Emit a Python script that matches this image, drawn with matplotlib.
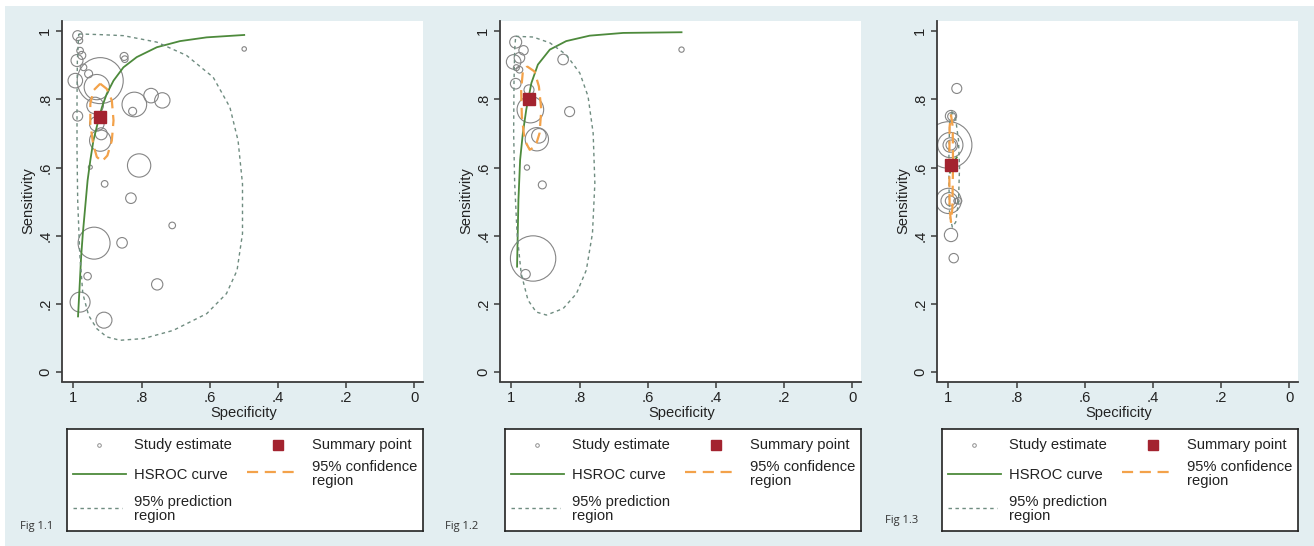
import matplotlib
matplotlib.use('Agg')
import matplotlib.pyplot as plt
from matplotlib.patches import Rectangle

plt.rcParams['font.family'] = ['Liberation Sans', 'DejaVu Sans']

W, H = 1314, 546

# ---------------- Fig 1.1 ----------------
spec1 = [0.987, 0.982, 0.980, 0.975, 0.989, 0.970, 0.955, 0.994, 0.921, 0.931,
         0.851, 0.849, 0.987, 0.936, 0.931, 0.918, 0.921, 0.950, 0.908, 0.821,
         0.826, 0.772, 0.739, 0.807, 0.831, 0.710, 0.939, 0.857, 0.958, 0.754,
         0.980, 0.910, 0.499]
sens1 = [0.987, 0.973, 0.943, 0.929, 0.914, 0.894, 0.875, 0.855, 0.855, 0.836,
         0.926, 0.918, 0.751, 0.782, 0.728, 0.699, 0.679, 0.601, 0.552, 0.785,
         0.765, 0.811, 0.797, 0.606, 0.510, 0.430, 0.378, 0.379, 0.281, 0.257,
         0.205, 0.152, 0.948]
wt1 = [25, 11, 11, 16, 36, 11, 16, 53, 530, 160,
       16, 11, 25, 69, 53, 36, 114, 4, 11, 152,
       16, 53, 59, 136, 28, 11, 256, 28, 14, 32,
       100, 64, 5]
summary1 = (0.921, 0.748)
hsroc1_spec = [0.986, 0.982, 0.977, 0.972, 0.965, 0.958, 0.950, 0.941, 0.929,
               0.916, 0.902, 0.882, 0.853, 0.814, 0.755, 0.687, 0.609, 0.499]
hsroc1_sens = [0.163, 0.239, 0.337, 0.406, 0.484, 0.562, 0.621, 0.679, 0.728,
               0.777, 0.816, 0.855, 0.894, 0.924, 0.953, 0.971, 0.982, 0.989]
pred1_spec = [0.984, 0.921, 0.853, 0.755, 0.668, 0.590, 0.541, 0.517, 0.504, 0.504,
              0.520, 0.551, 0.609, 0.707, 0.794, 0.863, 0.902, 0.931, 0.955, 0.972,
              0.981, 0.987, 0.989, 0.989, 0.988, 0.984]
pred1_sens = [0.992, 0.990, 0.987, 0.968, 0.929, 0.865, 0.777, 0.679, 0.552, 0.406,
              0.298, 0.230, 0.171, 0.122, 0.098, 0.093, 0.103, 0.127, 0.166, 0.230,
              0.347, 0.503, 0.650, 0.797, 0.914, 0.992]
conf1_spec = [0.921, 0.902, 0.887, 0.882, 0.887, 0.900, 0.916, 0.931, 0.942, 0.950,
              0.950, 0.941, 0.921]
conf1_sens = [0.846, 0.831, 0.797, 0.738, 0.679, 0.635, 0.618, 0.631, 0.670, 0.728,
              0.787, 0.826, 0.846]

# ---------------- Fig 1.2 ----------------
spec2 = [0.987, 0.964, 0.976, 0.993, 0.976, 0.985, 0.987, 0.948, 0.944, 0.919,
         0.925, 0.954, 0.909, 0.936, 0.958, 0.848, 0.829, 0.501]
sens2 = [0.968, 0.944, 0.922, 0.910, 0.887, 0.893, 0.846, 0.828, 0.770, 0.693,
         0.683, 0.600, 0.549, 0.333, 0.287, 0.917, 0.764, 0.946]
wt2 = [36, 22, 28, 53, 11, 9, 28, 25, 177, 53,
       136, 7, 16, 515, 22, 28, 25, 7]
summary2 = (0.949, 0.802)
hsroc2_spec = [0.983, 0.979, 0.974, 0.966, 0.956, 0.941, 0.922, 0.887, 0.839,
               0.770, 0.672, 0.501]
hsroc2_sens = [0.309, 0.505, 0.623, 0.701, 0.770, 0.848, 0.902, 0.946, 0.971,
               0.987, 0.995, 0.997]
pred2_spec = [0.987, 0.936, 0.887, 0.839, 0.799, 0.775, 0.760, 0.755, 0.762, 0.780,
              0.809, 0.848, 0.897, 0.927, 0.951, 0.971, 0.983, 0.990, 0.993, 0.992,
              0.990, 0.987]
pred2_sens = [0.985, 0.983, 0.966, 0.931, 0.877, 0.809, 0.701, 0.554, 0.407, 0.299,
              0.230, 0.186, 0.167, 0.176, 0.211, 0.289, 0.407, 0.554, 0.701, 0.848,
              0.946, 0.985]
conf2_spec = [0.954, 0.932, 0.919, 0.912, 0.917, 0.929, 0.946, 0.961, 0.969, 0.971,
              0.966, 0.954]
conf2_sens = [0.897, 0.882, 0.838, 0.770, 0.701, 0.662, 0.652, 0.681, 0.750, 0.828,
              0.882, 0.897]

# ---------------- Fig 1.3 ----------------
spec3 = [0.975, 0.992, 0.990, 0.999, 0.994, 0.994, 0.992, 0.999, 0.997, 0.994,
         0.970, 0.976, 0.992, 0.984]
sens3 = [0.832, 0.751, 0.750, 0.666, 0.666, 0.666, 0.666, 0.502, 0.502, 0.502,
         0.502, 0.502, 0.402, 0.334]
wt3 = [25, 32, 16, 544, 160, 53, 25, 160, 69, 25,
       11, 7, 44, 22]
summary3 = (0.991, 0.607)
hsroc3_spec = [0.995, 0.990, 0.982, 0.975]
hsroc3_sens = [0.585, 0.605, 0.620, 0.630]
pred3_spec = [0.990, 0.978, 0.970, 0.967, 0.970, 0.978, 0.988, 0.996, 0.998, 0.998,
              0.996, 0.990]
pred3_sens = [0.765, 0.740, 0.680, 0.600, 0.500, 0.440, 0.425, 0.460, 0.550, 0.650,
              0.730, 0.765]
conf3_spec = [0.992, 0.987, 0.986, 0.988, 0.992, 0.996, 0.997, 0.996, 0.992]
conf3_sens = [0.755, 0.720, 0.610, 0.480, 0.440, 0.480, 0.600, 0.720, 0.755]

ticks = [0, 0.2, 0.4, 0.6, 0.8, 1]
tick_labels = ['0', '.2', '.4', '.6', '.8', '1']
fig_labels = ['Fig 1.1', 'Fig 1.2', 'Fig 1.3']

BG = '#e3eef1'
GRAY = '#858585'
GREEN = '#4d8a3c'
PRED = '#6f8c80'
ORANGE = '#f3a24a'
RED = '#a3232f'
AXC = '#3a3a3a'
FS = 10.6


def px_axes(fig, left, top, right, bottom):
    return fig.add_axes([left / W, 1 - bottom / H, (right - left) / W, (bottom - top) / H])


def draw_panel(fig, left, spec, sens, wt, summ, hs_x, hs_y, pr_x, pr_y, cf_x, cf_y):
    ax = px_axes(fig, left, 21, left + 361, 381.5)
    ax.set_facecolor('white')
    ax.scatter(spec, sens, s=[w * 2.07 for w in wt], facecolors='none',
               edgecolors=GRAY, linewidths=0.8, zorder=2)
    ax.plot(hs_x, hs_y, color=GREEN, lw=1.3, zorder=3)
    ax.plot(pr_x, pr_y, color=PRED, lw=1.0, dashes=(2.5, 2.5), zorder=3)
    ax.plot(cf_x, cf_y, color=ORANGE, lw=1.6, dashes=(5, 3), zorder=4)
    ax.plot([summ[0]], [summ[1]], 's', color=RED, ms=8, zorder=5)
    ax.set_xlim(1.033, -0.025)
    ax.set_ylim(-0.028, 1.03)
    ax.set_xticks(ticks)
    ax.set_xticklabels(tick_labels)
    ax.set_yticks(ticks)
    ax.set_yticklabels(tick_labels, rotation=90, va='center')
    for s in ['top', 'right']:
        ax.spines[s].set_visible(False)
    for s in ['left', 'bottom']:
        ax.spines[s].set_color(AXC)
        ax.spines[s].set_linewidth(1.3)
    ax.tick_params(axis='both', length=4, width=1.1, color=AXC, labelsize=FS,
                   labelcolor='#222222')
    ax.tick_params(axis='x', pad=3)
    ax.tick_params(axis='y', pad=3)
    ax.text(0.504, -0.088, 'Specificity', transform=ax.transAxes, ha='center',
            va='center', fontsize=FS, color='#222222')
    ax.text(-0.094, 0.503, 'Sensitivity', transform=ax.transAxes, ha='center',
            va='center', rotation=90, fontsize=FS, color='#222222')
    return ax


def draw_legend(fig, left, right):
    lg = px_axes(fig, left, 429, right, 531)
    lg.set_xlim(0, right - left)
    lg.set_ylim(102, 0)
    lg.set_xticks([])
    lg.set_yticks([])
    for s in lg.spines.values():
        s.set_color('#222222')
        s.set_linewidth(1.2)
    kw = dict(va='center', ha='left', fontsize=FS, color='#222222', linespacing=0.95)
    lg.plot([32], [16], 'o', ms=2.6, mfc='none', mec='#909090', mew=0.7)
    lg.text(67, 16, 'Study estimate', **kw)
    lg.plot([211], [16], 's', color=RED, ms=7.5)
    lg.text(244.7, 16, 'Summary point', **kw)
    lg.plot([6, 59], [45, 45], color=GREEN, lw=1.3)
    lg.text(67, 46, 'HSROC curve', **kw)
    lg.plot([180, 231], [43, 43], color=ORANGE, lw=1.6, dashes=(5, 3))
    lg.text(244.7, 45, '95% confidence\nregion', **kw)
    lg.plot([6, 55], [79, 79], color=PRED, lw=1.0, dashes=(2.5, 2.5))
    lg.text(67, 80, '95% prediction\nregion', **kw)


fig = plt.figure(figsize=(W / 100, H / 100), dpi=100, facecolor='white')
fig.patches.append(Rectangle((5 / W, 0), 1, 1 - 6 / H, transform=fig.transFigure,
                             facecolor=BG, edgecolor='none', zorder=-10))

lefts = [62, 500, 937]
panels = [
    (spec1, sens1, wt1, summary1, hsroc1_spec, hsroc1_sens, pred1_spec, pred1_sens, conf1_spec, conf1_sens),
    (spec2, sens2, wt2, summary2, hsroc2_spec, hsroc2_sens, pred2_spec, pred2_sens, conf2_spec, conf2_sens),
    (spec3, sens3, wt3, summary3, hsroc3_spec, hsroc3_sens, pred3_spec, pred3_sens, conf3_spec, conf3_sens),
]
fig_lab_pos = [(20, 526), (445, 526), (885, 521)]

for i, p in enumerate(panels):
    draw_panel(fig, lefts[i], *p)
    draw_legend(fig, lefts[i] + 5, lefts[i] + 361)
    fx, fy = fig_lab_pos[i]
    fig.text(fx / W, 1 - fy / H, fig_labels[i], fontsize=8, family='Open Sans',
             va='center', ha='left', color='#333333')

fig.savefig('out.png', dpi=100, facecolor='white')
